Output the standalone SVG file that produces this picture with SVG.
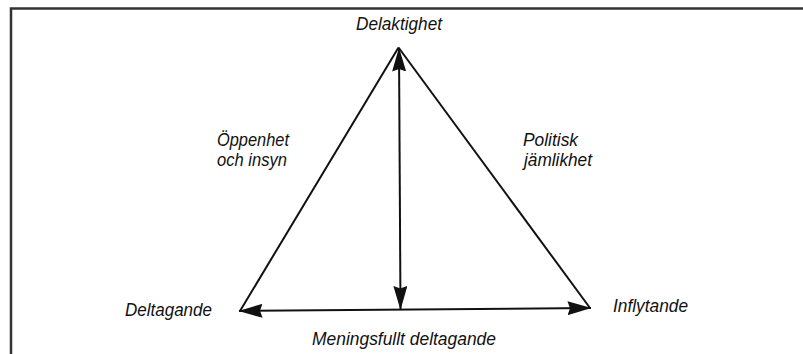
<svg xmlns="http://www.w3.org/2000/svg" width="803" height="354" viewBox="0 0 803 354">
  <style>
    .lbl { font-family: "Liberation Sans", Arial, sans-serif; font-style: italic; font-size: 17.5px; fill: #111; }
    .edge { stroke: #111; stroke-width: 2; fill: none; }
    .frame { stroke: #333; stroke-width: 2.5; fill: none; }
  </style>
  <defs>
    <marker id="arr" viewBox="0 0 24 14" markerWidth="24" markerHeight="14" refX="23.5" refY="7" orient="auto-start-reverse" markerUnits="userSpaceOnUse">
      <path d="M0,0 L24,7 L0,14 L2.5,7 Z" fill="#111"/>
    </marker>
  </defs>
  <rect width="803" height="354" fill="#fff"/>
  <g id="frame">
    <path class="frame" d="M11,354 L11,8.5 L803,8.5"/>
  </g>
  <g id="connectors">
    <line class="edge" x1="398.5" y1="47.5" x2="240" y2="311"/>
    <line class="edge" x1="398.5" y1="47.5" x2="590" y2="308"/>
    <line class="edge" x1="399" y1="48" x2="400.5" y2="309.5" marker-start="url(#arr)" marker-end="url(#arr)"/>
    <line class="edge" x1="239" y1="311" x2="591" y2="308" marker-start="url(#arr)" marker-end="url(#arr)"/>
  </g>
  <g id="node-delaktighet">
    <text class="lbl" x="356" y="30" textLength="86" lengthAdjust="spacingAndGlyphs">Delaktighet</text>
  </g>
  <g id="node-deltagande">
    <text class="lbl" x="125" y="316" textLength="87" lengthAdjust="spacingAndGlyphs">Deltagande</text>
  </g>
  <g id="node-inflytande">
    <text class="lbl" x="613" y="312" textLength="75" lengthAdjust="spacingAndGlyphs">Inflytande</text>
  </g>
  <g id="label-oppenhet">
    <text class="lbl" x="217" y="145.5" textLength="72" lengthAdjust="spacingAndGlyphs">Öppenhet</text>
    <text class="lbl" x="217" y="166" textLength="70" lengthAdjust="spacingAndGlyphs">och insyn</text>
  </g>
  <g id="label-politisk">
    <text class="lbl" x="523" y="145.5" textLength="55" lengthAdjust="spacingAndGlyphs">Politisk</text>
    <text class="lbl" x="524" y="166" textLength="68" lengthAdjust="spacingAndGlyphs">jämlikhet</text>
  </g>
  <g id="label-meningsfullt">
    <text class="lbl" x="312" y="345" textLength="184" lengthAdjust="spacingAndGlyphs">Meningsfullt deltagande</text>
  </g>
</svg>
